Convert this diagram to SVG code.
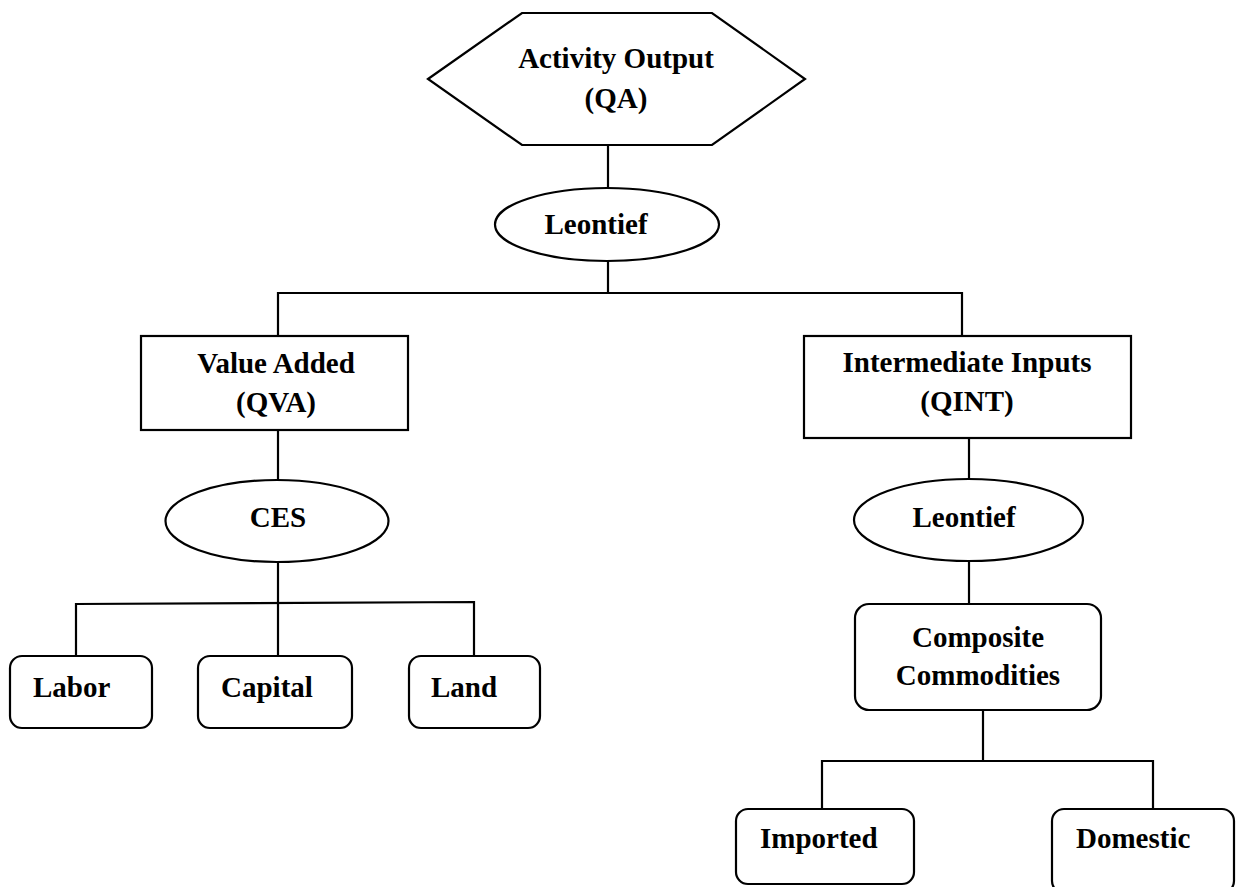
<svg xmlns="http://www.w3.org/2000/svg" width="1236" height="887" viewBox="0 0 1236 887">
<style>
.s{fill:#fff;stroke:#000;stroke-width:2.2}
.c{fill:none;stroke:#000;stroke-width:2.2}
.t{font-family:"Liberation Serif","Times New Roman",serif;font-weight:bold;font-size:29px;fill:#000}
.m{text-anchor:middle}
</style>
<rect x="0" y="0" width="1236" height="887" fill="#fff"/>
<g id="connectors">
<line class="c" x1="608" y1="145" x2="608" y2="188"/>
<polyline class="c" points="608,261 608,293"/>
<polyline class="c" points="278,336 278,293 962,293 962,336"/>
<line class="c" x1="278" y1="430" x2="278" y2="480"/>
<line class="c" x1="278" y1="562" x2="278" y2="603"/>
<polyline class="c" points="76,656 76,604 474,602 474,656"/>
<line class="c" x1="278" y1="603" x2="278" y2="656"/>
<line class="c" x1="969" y1="438" x2="969" y2="479"/>
<line class="c" x1="969" y1="561" x2="969" y2="604"/>
<line class="c" x1="983" y1="710" x2="983" y2="761"/>
<polyline class="c" points="822,809 822,761 1153,761 1153,809"/>
</g>
<g id="activity-output">
<polygon class="s" points="428,79 522,13 712,13 805,79 712,145 522,145"/>
<text class="t m" x="616" y="68">Activity Output</text>
<text class="t m" x="616" y="108">(QA)</text>
</g>
<g id="leontief-top">
<ellipse class="s" cx="607" cy="224.5" rx="112" ry="36.5"/>
<text class="t m" x="596" y="234">Leontief</text>
</g>
<g id="value-added">
<rect class="s" x="141" y="336" width="267" height="94"/>
<text class="t m" x="276" y="373">Value Added</text>
<text class="t m" x="276" y="412">(QVA)</text>
</g>
<g id="intermediate-inputs">
<rect class="s" x="804" y="336" width="327" height="102"/>
<text class="t m" x="967" y="372">Intermediate Inputs</text>
<text class="t m" x="967" y="411">(QINT)</text>
</g>
<g id="ces">
<ellipse class="s" cx="277" cy="521" rx="111.5" ry="41"/>
<text class="t m" x="278" y="527">CES</text>
</g>
<g id="leontief-int">
<ellipse class="s" cx="968.5" cy="520" rx="114.5" ry="41"/>
<text class="t m" x="964" y="527">Leontief</text>
</g>
<g id="labor">
<rect class="s" x="10" y="656" width="142" height="72" rx="12"/>
<text class="t" x="33" y="697">Labor</text>
</g>
<g id="capital">
<rect class="s" x="198" y="656" width="154" height="72" rx="12"/>
<text class="t" x="221" y="697">Capital</text>
</g>
<g id="land">
<rect class="s" x="409" y="656" width="131" height="72" rx="12"/>
<text class="t" x="431" y="697">Land</text>
</g>
<g id="composite-commodities">
<rect class="s" x="855" y="604" width="246" height="106" rx="14"/>
<text class="t m" x="978" y="647">Composite</text>
<text class="t m" x="978" y="685">Commodities</text>
</g>
<g id="imported">
<rect class="s" x="736" y="809" width="178" height="75" rx="12"/>
<text class="t" x="760" y="848">Imported</text>
</g>
<g id="domestic">
<rect class="s" x="1052" y="809" width="182" height="84" rx="12"/>
<text class="t" x="1076" y="848">Domestic</text>
</g>
</svg>
